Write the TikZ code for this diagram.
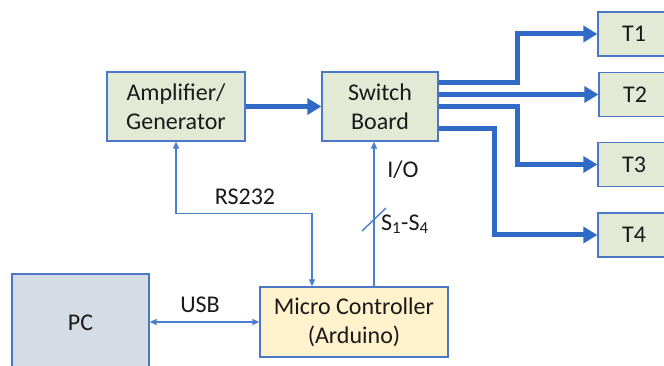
\documentclass[tikz,border=0pt]{standalone}
\usepackage{fontspec}
\setmainfont{Carlito}
\usetikzlibrary{arrows.meta,calc}
\definecolor{boxgreen}{HTML}{E2EAD6}
\definecolor{boxedge}{HTML}{4A78C4}
\definecolor{bigblue}{HTML}{2F6BC6}
\definecolor{thinblue}{HTML}{4A7FD0}
\definecolor{mcfill}{HTML}{FFF2CC}
\definecolor{pcfill}{HTML}{D6DCE5}
\definecolor{txt}{HTML}{1A1A1A}
\begin{document}
\begin{tikzpicture}[x=1pt,y=-1pt,
  box/.style={draw=boxedge, line width=1.3pt, fill=boxgreen, align=center, text=txt,
    inner sep=0pt, font=\fontsize{24}{29}\selectfont},
  tbox/.style={box, minimum width=72pt, minimum height=44pt},
  big/.style={draw=bigblue, line width=5pt, -{Triangle[length=14pt,width=16pt]}},
  thin/.style={draw=thinblue, line width=1.4pt},
  lab/.style={font=\fontsize{24}{27}\selectfont, text=txt, anchor=base, inner sep=0pt}]
\clip (0,0) rectangle (664,366);
\fill[white] (0,0) rectangle (664,366);

\node[box, minimum width=138pt, minimum height=69pt] (amp) at (176,106.5) {Amplifier/\\Generator};
\node[box, minimum width=116pt, minimum height=69pt] (switch) at (380,106.5) {Switch\\Board};
\node[tbox] (t1) at (634,34) {T1};
\node[tbox] (t2) at (635,94.5) {T2};
\node[tbox] (t3) at (634,164.5) {T3};
\node[tbox] (t4) at (634,235) {T4};
\node[box, fill=mcfill, minimum width=188pt, minimum height=70pt] (mc) at (354,322) {Micro Controller\\(Arduino)};
\node[box, fill=pcfill, minimum width=137pt, minimum height=98pt] (pc) at (80.5,323) {PC};

% thick arrows
\draw[big] (amp.east) -- (switch.west);
\draw[big] ([yshift=-11pt]switch.north east) -| ([xshift=-80pt]t1.west) -- (t1.west);
\draw[big] (switch.east |- t2.west) -- (t2.west);
\draw[big] (switch.east) -| ([xshift=-80pt]t3.west) -- (t3.west);
\draw[big] ([yshift=13pt]switch.south east) -| ([xshift=-103pt]t4.west) -- (t4.west);

% thin connectors
\draw[thin, {Triangle[length=7pt,width=6pt]}-{Triangle[length=7pt,width=6pt]}]
  (amp.south) -- ++(0,72) -| ([xshift=-42pt]mc.north);
\draw[thin, -{Triangle[length=7pt,width=6pt]}] ([xshift=20pt]mc.north) -- ([xshift=-6pt]switch.south);
\draw[thin, {Triangle[length=7pt,width=6pt]}-{Triangle[length=7pt,width=6pt]}] (pc.east |- mc.west) -- (mc.west);
\coordinate (sa) at (362,231);
\coordinate (sb) at (386,208);
\draw[thin] (sa) -- (sb);

% labels
\node[lab] (rs) at (245,205) {RS232};
\node[lab] (io) at (403,178) {I/O};
\node[lab, anchor=base west] (ss) at (381,230) {S\textsubscript{1}-S\textsubscript{4}};
\node[lab] (usb) at (200,312) {USB};
\end{tikzpicture}
\end{document}
